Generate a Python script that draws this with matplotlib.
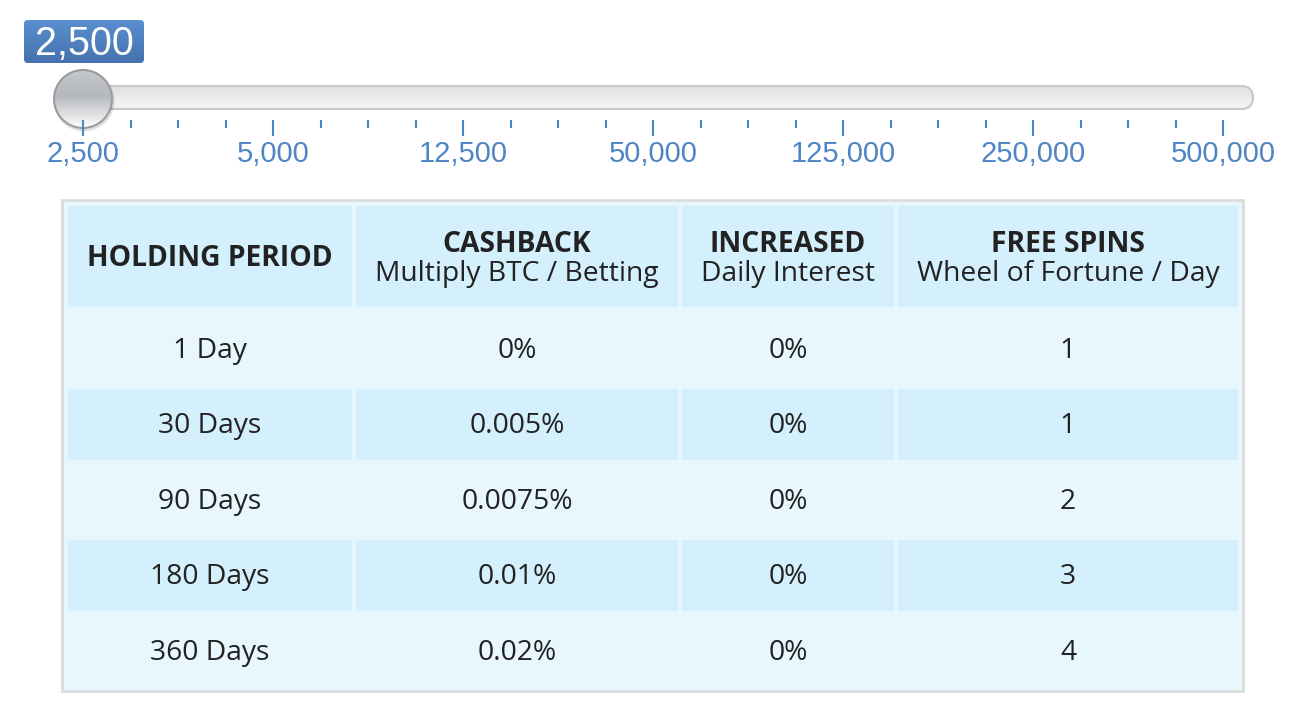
import numpy as np
import matplotlib
matplotlib.use("Agg")
import matplotlib.pyplot as plt
from matplotlib.patches import FancyBboxPatch, Rectangle, Circle
from matplotlib.colors import LinearSegmentedColormap

# ---------------- data ----------------
slider_values = [2500, 5000, 12500, 50000, 125000, 250000, 500000]
slider_labels = ["2,500", "5,000", "12,500", "50,000", "125,000", "250,000", "500,000"]
current_index = 0
current_label = "2,500"

header_titles = ["HOLDING PERIOD", "CASHBACK", "INCREASED", "FREE SPINS"]
header_subtitles = ["", "Multiply BTC / Betting", "Daily Interest", "Wheel of Fortune / Day"]
holding_periods = ["1 Day", "30 Days", "90 Days", "180 Days", "360 Days"]
cashback = ["0%", "0.005%", "0.0075%", "0.01%", "0.02%"]
daily_interest = ["0%", "0%", "0%", "0%", "0%"]
free_spins = ["1", "1", "2", "3", "4"]

# ---------------- figure ----------------
W, H = 1302, 720
fig = plt.figure(figsize=(W / 100, H / 100), dpi=100)
fig.patch.set_facecolor("white")

ov = fig.add_axes([0, 0, 1, 1])
ov.set_xlim(0, W)
ov.set_ylim(H, 0)
ov.axis("off")

BLUE = "#4d86c6"
TXT = "#222222"
FONT = "Open Sans"
SFONT = "Liberation Sans"
FS = 20.3
DY = 2  # text baseline correction

# ---------------- slider scale axes ----------------
sx0, sx1 = 83, 1223
tick_top = 120
sl = fig.add_axes([sx0 / W, 1 - tick_top / H, (sx1 - sx0) / W, 0.001])
sl.set_xlim(0, len(slider_values) - 1)
sl.set_ylim(0, 1)
sl.patch.set_alpha(0)
for s in sl.spines.values():
    s.set_visible(False)
sl.set_yticks([])
sl.set_xticks(range(len(slider_values)))
sl.set_xticklabels(slider_labels, fontfamily=SFONT, fontsize=21, color=BLUE)
sl.set_xticks(np.arange(0, len(slider_values) - 1 + 0.01, 0.25), minor=True)
sl.tick_params(axis="x", which="major", direction="out", length=11.5, width=1.5,
               color=BLUE, pad=3.0)
sl.tick_params(axis="x", which="minor", direction="out", length=5.8, width=1.5,
               color=BLUE)

# ---------------- slider track ----------------
def gradient_patch(ax, patch, c_top, c_bot, extent):
    ax.add_patch(patch)
    cmap = LinearSegmentedColormap.from_list("g", [c_top, c_bot])
    grad = np.linspace(0, 1, 256).reshape(-1, 1)
    im = ax.imshow(grad, cmap=cmap, extent=extent, aspect="auto",
                   interpolation="bilinear", zorder=patch.get_zorder())
    im.set_clip_path(patch)
    return im

track_top, track_bot = 86, 109
track_left, track_right = 56, 1253
r = (track_bot - track_top) / 2
track = FancyBboxPatch((track_left, track_top), track_right - track_left,
                       track_bot - track_top,
                       boxstyle=f"round,pad=0,rounding_size={r}",
                       facecolor="none", edgecolor="none", zorder=2)
gradient_patch(ov, track, "#e0e0e0", "#f5f5f5",
               (track_left, track_right, track_bot, track_top))
ov.add_patch(FancyBboxPatch((track_left, track_top), track_right - track_left,
                            track_bot - track_top,
                            boxstyle=f"round,pad=0,rounding_size={r}",
                            facecolor="none", edgecolor="#c8c8c8", linewidth=1.5,
                            zorder=3))

# knob position via slider scale
disp = sl.transData.transform((current_index, 0))
kx = ov.transData.inverted().transform(disp)[0]
ky = 99
kr = 29
ov.add_patch(Circle((kx + 1, ky + 2), kr + 1.5, facecolor="#000000", alpha=0.12,
                    edgecolor="none", zorder=4))
knob = Circle((kx, ky), kr, facecolor="none", edgecolor="none", zorder=5)
ov.add_patch(knob)
cmap_k = LinearSegmentedColormap.from_list("k", [(0, "#c4c7cb"), (0.45, "#b5b9be"),
                                                 (0.8, "#e4e5e7"), (1, "#ffffff")])
gk = np.linspace(0, 1, 256).reshape(-1, 1)
imk = ov.imshow(gk, cmap=cmap_k, extent=(kx - kr, kx + kr, ky + kr, ky - kr),
                aspect="auto", interpolation="bilinear", zorder=5)
imk.set_clip_path(knob)
ov.add_patch(Circle((kx, ky), kr, facecolor="none", edgecolor="#9c9c9c",
                    linewidth=1.5, zorder=6))

# value label box
bx0, bx1, by0, by1 = 24, 144, 20, 63
box = FancyBboxPatch((bx0, by0), bx1 - bx0, by1 - by0,
                     boxstyle="round,pad=0,rounding_size=4",
                     facecolor="none", edgecolor="none", zorder=5)
gradient_patch(ov, box, "#5a8fcf", "#4572ad", (bx0, bx1, by1, by0))
ov.text((bx0 + bx1) / 2, (by0 + by1) / 2 + 2, current_label, fontfamily=SFONT,
        fontsize=28.5, color="white", ha="center", va="center", zorder=7)

# ---------------- table ----------------
LIGHT = "#e8f7fe"
DARK = "#d4f0fc"
tx0, tx1, ty0, ty1 = 62, 1243, 200, 691
ov.add_patch(Rectangle((tx0, ty0), tx1 - tx0, ty1 - ty0, facecolor=LIGHT,
                       edgecolor="#dcdcdc", linewidth=2, zorder=1))

col_left = [68, 356, 682, 898]
col_right = [352, 678, 894, 1238]
col_center = [(a + b) / 2 for a, b in zip(col_left, col_right)]

hy0, hy1 = 206, 307
for i in range(4):
    ov.add_patch(Rectangle((col_left[i], hy0), col_right[i] - col_left[i], hy1 - hy0,
                           facecolor=DARK, edgecolor="none", zorder=2))
    if header_subtitles[i]:
        ov.text(col_center[i], 242 + DY, header_titles[i], fontfamily=FONT,
                fontweight="bold", fontsize=FS, color=TXT, ha="center", va="center",
                zorder=3)
        ov.text(col_center[i], 272 + DY, header_subtitles[i], fontfamily=FONT,
                fontsize=FS, color=TXT, ha="center", va="center", zorder=3)
    else:
        ov.text(col_center[i], 256 + DY, header_titles[i], fontfamily=FONT,
                fontweight="bold", fontsize=FS, color=TXT, ha="center", va="center",
                zorder=3)

row_center = [349, 424, 500, 575, 651]
dark_h = 71
columns = [holding_periods, cashback, daily_interest, free_spins]
for r_i, yc in enumerate(row_center):
    if r_i % 2 == 1:
        for i in range(4):
            ov.add_patch(Rectangle((col_left[i], yc - dark_h / 2 + 0.5),
                                   col_right[i] - col_left[i], dark_h,
                                   facecolor=DARK, edgecolor="none", zorder=2))
    for i in range(4):
        ov.text(col_center[i], yc + DY, columns[i][r_i], fontfamily=FONT, fontsize=FS,
                color=TXT, ha="center", va="center", zorder=3)

fig.savefig("out.png", dpi=100, facecolor="white")
